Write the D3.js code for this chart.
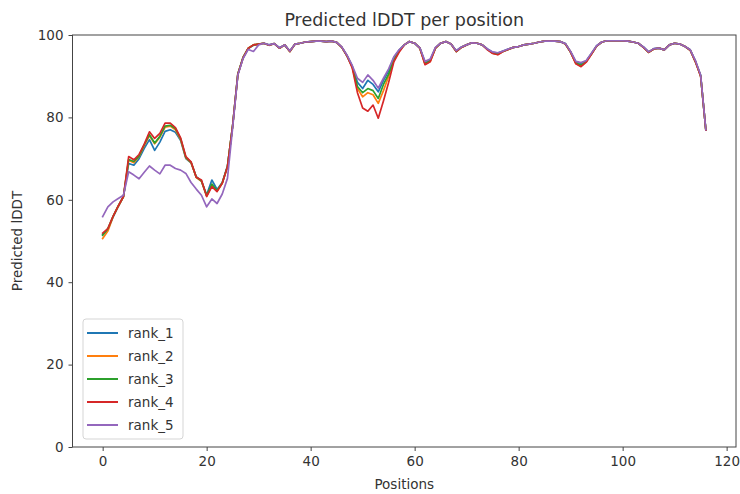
<!DOCTYPE html>
<html>
<head>
<meta charset="utf-8">
<script src="https://cdn.jsdelivr.net/npm/d3@7"></script>
<style>
  html, body { margin: 0; padding: 0; background: #fff; }
  svg text { font-family: "DejaVu Sans", sans-serif; fill: #333; }
</style>
</head>
<body>
<div id="chart"></div>
<script>
// per-position predicted lDDT, one array per model rank
var rank1 = [51.6, 52.8, 55.8, 58.4, 60.8, 68.8, 68.4, 70.0, 72.5, 74.6,
  72.0, 74.0, 76.6, 77.0, 76.4, 74.4, 70.0, 69.0, 65.6, 64.5,
  61.2, 64.8, 62.5, 64.2, 68.2, 78.0, 90.4, 94.4, 96.7, 97.5,
  97.8, 98.0, 97.6, 97.9, 96.9, 97.6, 96.1, 97.8, 98.0, 98.3,
  98.4, 98.5, 98.5, 98.4, 98.5, 98.2, 97.0, 95.0, 92.4, 88.5,
  87.0, 89.0, 88.0, 86.2, 89.0, 91.3, 94.5, 96.3, 97.6, 98.4,
  98.0, 96.9, 93.4, 94.0, 96.9, 98.0, 98.4, 97.8, 96.2, 97.1,
  97.6, 98.1, 98.0, 97.6, 96.6, 95.8, 95.6, 96.1, 96.6, 97.0,
  97.2, 97.6, 97.8, 98.0, 98.3, 98.5, 98.5, 98.5, 98.4, 97.9,
  95.9, 93.5, 93.1, 93.7, 95.5, 97.4, 98.3, 98.6, 98.6, 98.6,
  98.6, 98.5, 98.3, 98.0, 97.1, 95.9, 96.7, 96.8, 96.4, 97.6,
  98.0, 97.8, 97.2, 96.4, 93.7, 90.2, 77.0];

var rank2 = [50.6, 52.4, 55.9, 58.4, 60.7, 69.6, 69.0, 70.5, 73.2, 75.6,
  73.6, 75.2, 77.6, 77.9, 77.0, 74.6, 70.2, 69.0, 65.4, 64.5,
  60.9, 63.5, 62.1, 64.0, 68.0, 78.0, 90.5, 94.5, 96.8, 97.6,
  97.8, 98.0, 97.5, 97.9, 96.8, 97.6, 96.0, 97.8, 98.0, 98.3,
  98.4, 98.5, 98.5, 98.4, 98.5, 98.2, 97.0, 94.9, 92.2, 87.0,
  85.0, 86.0, 85.5, 83.4, 86.5, 90.0, 93.8, 96.0, 97.6, 98.4,
  98.0, 96.8, 92.9, 93.6, 96.8, 98.0, 98.4, 97.8, 96.0, 97.0,
  97.6, 98.1, 98.0, 97.6, 96.5, 95.6, 95.3, 96.0, 96.5, 97.0,
  97.2, 97.6, 97.8, 98.0, 98.3, 98.5, 98.5, 98.5, 98.4, 97.8,
  95.8, 93.1, 92.5, 93.5, 95.4, 97.3, 98.3, 98.6, 98.6, 98.6,
  98.6, 98.5, 98.3, 98.0, 97.0, 95.8, 96.6, 96.8, 96.4, 97.6,
  98.0, 97.8, 97.2, 96.3, 93.5, 90.0, 76.9];

var rank3 = [51.4, 53.0, 56.0, 58.5, 60.8, 69.8, 69.3, 70.6, 73.4, 75.8,
  73.8, 75.4, 77.9, 78.1, 77.3, 74.8, 70.3, 69.1, 65.5, 64.6,
  61.0, 63.8, 62.2, 64.1, 68.1, 78.0, 90.6, 94.6, 96.8, 97.6,
  97.8, 98.0, 97.5, 97.9, 96.8, 97.6, 96.0, 97.8, 98.0, 98.3,
  98.4, 98.5, 98.5, 98.4, 98.5, 98.2, 97.0, 94.9, 92.3, 87.5,
  86.0, 87.0, 86.5, 84.6, 88.0, 90.5, 94.0, 96.2, 97.6, 98.4,
  98.0, 96.8, 93.1, 93.8, 96.8, 98.0, 98.4, 97.8, 96.0, 97.0,
  97.6, 98.1, 98.0, 97.6, 96.5, 95.6, 95.4, 96.0, 96.5, 97.0,
  97.2, 97.6, 97.8, 98.0, 98.3, 98.5, 98.5, 98.5, 98.4, 97.8,
  95.8, 93.2, 92.7, 93.6, 95.4, 97.3, 98.3, 98.6, 98.6, 98.6,
  98.6, 98.5, 98.3, 98.0, 97.0, 95.8, 96.6, 96.8, 96.4, 97.6,
  98.0, 97.8, 97.2, 96.3, 93.5, 90.1, 76.9];

var rank4 = [51.9, 53.0, 56.0, 58.5, 60.8, 70.5, 69.7, 71.0, 73.5, 76.5,
  74.9, 76.1, 78.6, 78.6, 77.5, 75.0, 70.5, 69.2, 65.5, 64.8,
  60.8, 63.2, 62.0, 64.0, 68.0, 78.0, 90.5, 94.5, 96.8, 97.6,
  97.8, 98.0, 97.5, 97.9, 96.8, 97.6, 96.0, 97.8, 98.0, 98.3,
  98.4, 98.5, 98.5, 98.4, 98.5, 98.2, 97.0, 94.9, 92.0, 86.0,
  82.3, 81.5, 83.0, 79.8, 84.0, 88.5, 93.5, 95.8, 97.6, 98.4,
  98.0, 96.8, 92.8, 93.5, 96.8, 98.0, 98.4, 97.8, 96.0, 97.0,
  97.6, 98.1, 98.0, 97.6, 96.4, 95.5, 95.2, 96.0, 96.5, 97.0,
  97.2, 97.6, 97.8, 98.0, 98.3, 98.5, 98.5, 98.5, 98.4, 97.8,
  95.8, 93.0, 92.3, 93.4, 95.3, 97.3, 98.3, 98.6, 98.6, 98.6,
  98.6, 98.5, 98.3, 98.0, 97.0, 95.8, 96.6, 96.8, 96.4, 97.6,
  98.0, 97.8, 97.2, 96.3, 93.5, 90.0, 76.9];

var rank5 = [55.9, 58.3, 59.5, 60.3, 61.1, 66.8, 66.0, 65.1, 66.7, 68.2,
  67.2, 66.3, 68.4, 68.4, 67.6, 67.2, 66.4, 64.2, 62.6, 61.1,
  58.3, 60.2, 59.1, 61.4, 65.2, 77.5, 90.3, 94.3, 96.5, 96.0,
  97.6, 98.0, 97.6, 97.9, 96.9, 97.6, 96.1, 97.8, 98.0, 98.3,
  98.4, 98.5, 98.5, 98.4, 98.5, 98.2, 97.1, 95.1, 92.6, 89.5,
  88.5, 90.3, 89.0, 87.1, 89.5, 91.8, 94.7, 96.4, 97.6, 98.4,
  98.0, 96.9, 93.6, 94.2, 97.0, 98.0, 98.4, 97.8, 96.2, 97.1,
  97.6, 98.1, 98.0, 97.6, 96.6, 95.9, 95.7, 96.1, 96.6, 97.0,
  97.2, 97.6, 97.8, 98.0, 98.3, 98.5, 98.5, 98.5, 98.4, 97.9,
  96.0, 93.6, 93.3, 93.8, 95.6, 97.4, 98.3, 98.6, 98.6, 98.6,
  98.6, 98.5, 98.3, 98.0, 97.1, 95.9, 96.7, 96.8, 96.4, 97.6,
  98.0, 97.8, 97.2, 96.4, 93.8, 90.3, 77.0];

var seriesNames = ["rank_1", "rank_2", "rank_3", "rank_4", "rank_5"];
var seriesColors = ["#1f77b4", "#ff7f0e", "#2ca02c", "#d62728", "#9467bd"];
var xTicks = [0, 20, 40, 60, 80, 100, 120];
var yTicks = [0, 20, 40, 60, 80, 100];

var W = 740, H = 494;
// axes box (plot* names: window.top is read-only)
var plotL = 72.5, plotR = 736, plotT = 35, plotB = 447;

var allSeries = [rank1, rank2, rank3, rank4, rank5];
var n = rank1.length;
var pad = (n - 1) * 0.05; // matplotlib default margin

var x = d3.scaleLinear().domain([-pad, n - 1 + pad]).range([plotL, plotR]);
var y = d3.scaleLinear().domain([0, 100]).range([plotB, plotT]);

var svg = d3.select("#chart").append("svg")
  .attr("width", W)
  .attr("height", H);

// clip the lines to the axes box
svg.append("clipPath").attr("id", "plotclip")
  .append("rect")
    .attr("x", plotL).attr("y", plotT)
    .attr("width", plotR - plotL).attr("height", plotB - plotT);

var line = d3.line()
  .x(function(d, i) { return x(i); })
  .y(function(d) { return y(d); });

svg.append("g").attr("clip-path", "url(#plotclip)")
  .selectAll("path.series")
  .data(allSeries)
  .enter().append("path")
    .attr("class", "series")
    .attr("d", line)
    .style("fill", "none")
    .style("stroke", function(d, i) { return seriesColors[i]; })
    .style("stroke-width", 1.7)
    .style("stroke-linejoin", "round")
    .style("stroke-linecap", "square");

// axes
var xAxis = svg.append("g")
  .attr("transform", "translate(0," + plotB + ")")
  .call(d3.axisBottom(x).tickValues(xTicks).tickSize(4).tickPadding(5));
var yAxis = svg.append("g")
  .attr("transform", "translate(" + plotL + ",0)")
  .call(d3.axisLeft(y).tickValues(yTicks).tickSize(4).tickPadding(5));

[xAxis, yAxis].forEach(function(ax) {
  ax.select(".domain").remove();
  ax.selectAll(".tick line").style("stroke", "#444").style("stroke-width", 1);
  ax.selectAll(".tick text").style("font-size", "13.5px").style("fill", "#333");
});

// frame around the axes
svg.append("rect")
  .attr("x", plotL).attr("y", plotT)
  .attr("width", plotR - plotL).attr("height", plotB - plotT)
  .style("fill", "none")
  .style("stroke", "#444")
  .style("stroke-width", 1);

// title and labels
svg.append("text")
  .attr("x", (plotL + plotR) / 2).attr("y", 26)
  .attr("text-anchor", "middle")
  .style("font-size", "17.5px")
  .text("Predicted lDDT per position");

svg.append("text")
  .attr("x", (plotL + plotR) / 2).attr("y", 489)
  .attr("text-anchor", "middle")
  .style("font-size", "13.5px")
  .text("Positions");

svg.append("text")
  .attr("transform", "translate(22," + ((plotT + plotB) / 2) + ") rotate(-90)")
  .attr("text-anchor", "middle")
  .style("font-size", "13.5px")
  .text("Predicted lDDT");

// legend, lower left
var lg = svg.append("g").attr("transform", "translate(83,319)");
lg.append("rect")
  .attr("width", 100).attr("height", 120)
  .attr("rx", 3)
  .style("fill", "rgba(255,255,255,0.8)")
  .style("stroke", "#d5d5d5")
  .style("stroke-width", 1);

var items = lg.selectAll("g.item")
  .data(seriesNames)
  .enter().append("g")
    .attr("class", "item")
    .attr("transform", function(d, i) { return "translate(0," + (14 + i * 23) + ")"; });

items.append("line")
  .attr("x1", 4).attr("x2", 35)
  .style("stroke", function(d, i) { return seriesColors[i]; })
  .style("stroke-width", 2);

items.append("text")
  .attr("x", 45).attr("dy", "0.35em")
  .style("font-size", "13.5px")
  .text(function(d) { return d; });
</script>
</body>
</html>
